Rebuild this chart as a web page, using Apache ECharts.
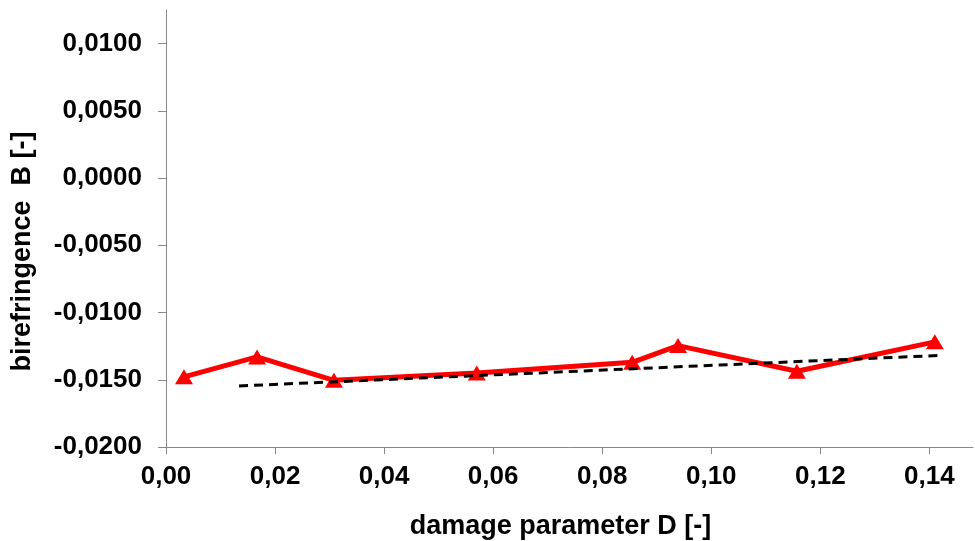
<!DOCTYPE html>
<html>
<head>
<meta charset="utf-8">
<script src="https://cdn.jsdelivr.net/npm/echarts@6/dist/echarts.min.js"></script>
<style>
  html, body { margin: 0; padding: 0; background: #fff; }
  #chart { width: 975px; height: 541px; }
</style>
</head>
<body>
<div id="chart"></div>
<script>
// measured points: damage parameter D vs birefringence B
const damageD = [0.0033, 0.0167, 0.0308, 0.0570, 0.0855, 0.0939, 0.1157, 0.1410];
const birefB = [-0.01478, -0.0133, -0.01504, -0.01449, -0.0137, -0.01246, -0.01437, -0.01218];

const trendD = [0.0134, 0.1417];
const trendB = [-0.01546, -0.01319];

const xTicks = [0, 0.02, 0.04, 0.06, 0.08, 0.10, 0.12, 0.14];
const yTicks = [-0.02, -0.015, -0.01, -0.005, 0, 0.005, 0.01];

const font = "'Liberation Sans', Arial, sans-serif";
const commaFmt = (digits) => (v) => v.toFixed(digits).replace(".", ",");

const chart = echarts.init(document.getElementById("chart"), null, { renderer: "canvas" });

chart.setOption({
  animation: false,
  backgroundColor: "#fff",
  grid: { left: 166, right: 2, top: 10, bottom: 94, containLabel: false, outerBoundsMode: "none" },
  xAxis: {
    type: "value",
    min: 0,
    max: 0.148,
    interval: 0.02,
    name: "damage parameter D [-]",
    nameLocation: "middle",
    nameGap: 66,
    nameTextStyle: {
      color: "#000", fontFamily: font, fontWeight: "bold", fontSize: 27,
      padding: [0, 18, 0, 0]
    },
    axisLine: { show: true, onZero: false, lineStyle: { color: "#888", width: 1 } },
    axisTick: { show: true, length: 7, lineStyle: { color: "#888" }, customValues: xTicks },
    axisLabel: {
      color: "#000", fontFamily: font, fontWeight: "bold", fontSize: 26, margin: 17,
      customValues: xTicks, formatter: commaFmt(2)
    },
    splitLine: { show: false }
  },
  yAxis: {
    type: "value",
    min: -0.02,
    max: 0.0125,
    interval: 0.005,
    name: "birefringence  B [-]",
    nameLocation: "middle",
    nameGap: 130,
    nameTextStyle: {
      color: "#000", fontFamily: font, fontWeight: "bold", fontSize: 27,
      padding: [0, 46, 0, 0]
    },
    axisLine: { show: true, onZero: false, lineStyle: { color: "#888", width: 1 } },
    axisTick: { show: true, length: 8, lineStyle: { color: "#888" }, customValues: yTicks },
    axisLabel: {
      color: "#000", fontFamily: font, fontWeight: "bold", fontSize: 26, margin: 24,
      customValues: yTicks, formatter: commaFmt(4)
    },
    splitLine: { show: false }
  },
  series: [
    {
      type: "line",
      data: damageD.map((d, i) => [d, birefB[i]]),
      symbol: "triangle",
      symbolSize: [18, 15],
      showSymbol: true,
      lineStyle: { color: "#ff0000", width: 5 },
      itemStyle: { color: "#ff0000" },
      z: 2
    },
    {
      type: "line",
      data: trendD.map((d, i) => [d, trendB[i]]),
      symbol: "none",
      lineStyle: { color: "#000", width: 3, type: [9, 6] },
      z: 3
    }
  ]
});
</script>
</body>
</html>
